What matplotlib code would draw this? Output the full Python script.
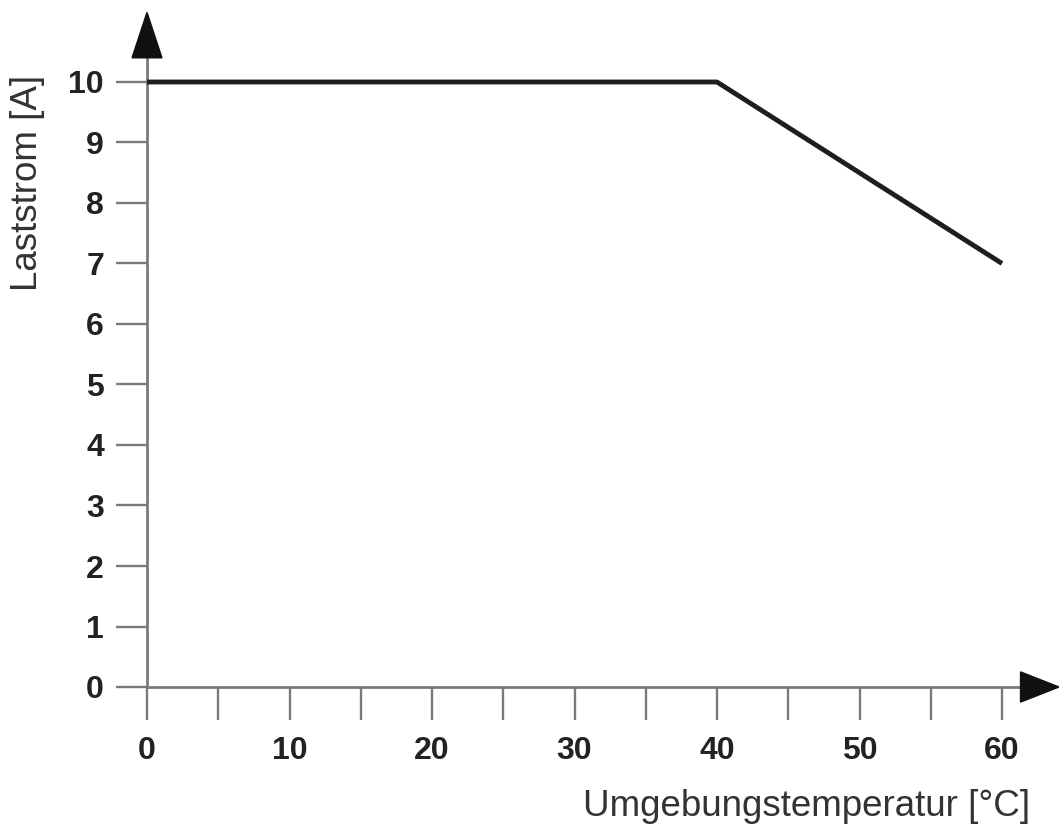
import matplotlib
matplotlib.use("Agg")
import matplotlib.pyplot as plt

# derating curve: load current vs ambient temperature
temp = [0, 40, 60]
current = [10, 10, 7]

x_major = [0, 10, 20, 30, 40, 50, 60]
x_minor = [5, 15, 25, 35, 45, 55]
y_ticks = [0, 1, 2, 3, 4, 5, 6, 7, 8, 9, 10]

plt.rcParams['font.family'] = ['Liberation Sans', 'DejaVu Sans']

W, H = 1059, 835
fig = plt.figure(figsize=(W / 100, H / 100), dpi=100)
ax = fig.add_axes([147 / W, 1 - 687 / H, 855 / W, 605 / H])
ax.set_xlim(0, 60)
ax.set_ylim(0, 10)
for s in ax.spines.values():
    s.set_visible(False)

axis_col = "#7a7a7a"
ax.set_xticks(x_major)
ax.set_xticks(x_minor, minor=True)
ax.set_yticks(y_ticks)
ax.tick_params(axis="both", which="both", direction="out", color=axis_col,
               width=1.7, labelcolor="#222222")
ax.tick_params(axis="x", which="both", length=24, pad=11, labelsize=23)
ax.tick_params(axis="y", length=22, pad=9, labelsize=23)
for lab in ax.get_xticklabels() + ax.get_yticklabels():
    lab.set_fontweight("bold")

# axis lines with arrow heads
ax.plot([0, 61.5], [0, 0], color=axis_col, lw=2.0, clip_on=False, zorder=2)
ax.plot([0, 0], [0, 10.45], color=axis_col, lw=2.0, clip_on=False, zorder=2)
ax.fill([61.3, 64.0, 61.3], [-0.25, 0, 0.25], color="#111111", clip_on=False, zorder=3)
ax.fill([-1.05, 0, 1.05], [10.4, 11.15, 10.4], color="#111111", clip_on=False, zorder=3)

ax.plot(temp, current, color="#1e1e1e", lw=3.5, solid_capstyle="butt",
        clip_on=False, zorder=4)

fig.text(1030 / W, 1 - 806 / H, "Umgebungstemperatur [°C]", ha="right", va="center",
         fontsize=26.5, color="#333333")
fig.text(28 / W, 1 - 183 / H, "Laststrom [A]", ha="center", va="center",
         rotation=90, fontsize=26.5, color="#333333")

fig.savefig("out.png", dpi=100)
